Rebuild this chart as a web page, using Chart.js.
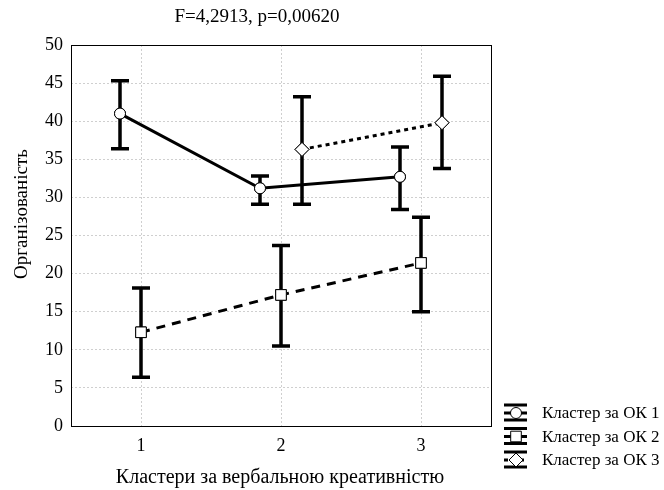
<!DOCTYPE html>
<html>
<head>
<meta charset="utf-8">
<script src="https://cdn.jsdelivr.net/npm/chart.js@4"></script>
<style>
  html, body { margin: 0; padding: 0; background: #fff; }
  #wrap { width: 664px; height: 490px; }
</style>
</head>
<body>
<div id="wrap"><canvas id="chart" width="664" height="490"></canvas></div>
<script>
// Data
const clusters = [1, 2, 3];
const seriesNames = ['Кластер за ОК 1', 'Кластер за ОК 2', 'Кластер за ОК 3'];
const xShift = [-0.15, 0, 0.15];

const ok1Mean = [41.0, 31.2, 32.7];
const ok1Upper = [45.3, 32.8, 36.6];
const ok1Lower = [36.4, 29.1, 28.4];

const ok2Mean = [12.3, 17.2, 21.4];
const ok2Upper = [18.1, 23.7, 27.4];
const ok2Lower = [6.4, 10.5, 15.0];

const ok3Mean = [null, 36.3, 39.8];
const ok3Upper = [null, 43.2, 45.9];
const ok3Lower = [null, 29.1, 33.8];

const yTicks = [0, 5, 10, 15, 20, 25, 30, 35, 40, 45, 50];
const titleText = 'F=4,2913, p=0,00620';
const xTitle = 'Кластери за вербальною креативністю';
const yTitle = 'Організованість';

const SERIF = '"Liberation Serif", "Times New Roman", serif';

function points(means, shift) {
    return clusters.map((c, i) => ({ x: c + shift, y: means[i] }));
}

const bars = [
    { lo: ok1Lower, hi: ok1Upper },
    { lo: ok2Lower, hi: ok2Upper },
    { lo: ok3Lower, hi: ok3Upper }
];

// error bars, then markers redrawn on top of them
const errorBars = {
    id: 'errorBars',
    afterDatasetsDraw(chart) {
        const ctx = chart.ctx;
        const y = chart.scales.y;
        ctx.save();
        ctx.strokeStyle = '#000';
        ctx.lineWidth = 3.5;
        chart.data.datasets.forEach((ds, d) => {
            const meta = chart.getDatasetMeta(d);
            meta.data.forEach((pt, i) => {
                if (bars[d].lo[i] == null) return;
                const x = pt.x;
                const yl = y.getPixelForValue(bars[d].lo[i]);
                const yh = y.getPixelForValue(bars[d].hi[i]);
                ctx.beginPath();
                ctx.moveTo(x, yh); ctx.lineTo(x, yl);
                ctx.moveTo(x - 9, yh); ctx.lineTo(x + 9, yh);
                ctx.moveTo(x - 9, yl); ctx.lineTo(x + 9, yl);
                ctx.stroke();
            });
        });
        ctx.restore();
        chart.data.datasets.forEach((ds, d) => {
            chart.getDatasetMeta(d).data.forEach(pt => {
                if (!pt.skip) pt.draw(ctx, chart.chartArea);
            });
        });
    }
};

// frame, titles and the legend
const decorations = {
    id: 'decorations',
    afterDraw(chart) {
        const ctx = chart.ctx;
        const a = chart.chartArea;
        ctx.save();
        ctx.strokeStyle = '#000';
        ctx.lineWidth = 1;
        ctx.strokeRect(Math.round(a.left) + 0.5, Math.round(a.top) + 0.5,
            Math.round(a.right - a.left), Math.round(a.bottom - a.top));

        ctx.fillStyle = '#000';
        ctx.textAlign = 'center';
        ctx.textBaseline = 'middle';
        ctx.font = '19px ' + SERIF;
        ctx.fillText(titleText, 257, 17);

        ctx.font = '20px ' + SERIF;
        ctx.fillText(xTitle, 280, 478);

        ctx.save();
        ctx.translate(22, 214);
        ctx.rotate(-Math.PI / 2);
        ctx.font = '19px ' + SERIF;
        ctx.fillText(yTitle, 0, 0);
        ctx.restore();

        // legend
        ctx.textAlign = 'left';
        ctx.font = '17px ' + SERIF;
        chart.data.datasets.forEach((ds, d) => {
            const ly = 413 + d * 23.5;
            ctx.save();
            ctx.lineWidth = 3;
            ctx.strokeStyle = '#000';
            ctx.beginPath();
            ctx.moveTo(504, ly - 8); ctx.lineTo(527, ly - 8);
            ctx.moveTo(504, ly + 7); ctx.lineTo(527, ly + 7);
            ctx.stroke();
            ctx.setLineDash(ds.borderDash || []);
            ctx.beginPath();
            ctx.moveTo(504, ly); ctx.lineTo(527, ly);
            ctx.stroke();
            ctx.restore();
            ctx.save();
            ctx.fillStyle = '#fff';
            ctx.strokeStyle = '#000';
            ctx.lineWidth = 1;
            Chart.helpers.drawPoint(ctx, {
                pointStyle: ds.pointStyle, radius: ds.pointRadius, rotation: 0, borderWidth: 1
            }, 516, ly);
            ctx.restore();
            ctx.fillStyle = '#000';
            ctx.fillText(seriesNames[d], 542, ly + 1);
        });
        ctx.restore();
    }
};

const lineStyle = {
    borderColor: '#000',
    borderWidth: 3,
    pointBackgroundColor: '#fff',
    pointBorderColor: '#000',
    pointBorderWidth: 1,
    pointHoverRadius: 0,
    fill: false,
    tension: 0
};

new Chart(document.getElementById('chart'), {
    type: 'line',
    data: {
        datasets: [
            Object.assign({}, lineStyle, {
                label: seriesNames[0], data: points(ok1Mean, xShift[0]),
                pointStyle: 'circle', pointRadius: 5.5
            }),
            Object.assign({}, lineStyle, {
                label: seriesNames[1], data: points(ok2Mean, xShift[1]),
                pointStyle: 'rect', pointRadius: 7.5, borderDash: [9, 7]
            }),
            Object.assign({}, lineStyle, {
                label: seriesNames[2], data: points(ok3Mean, xShift[2]),
                pointStyle: 'rectRot', pointRadius: 7, borderDash: [4, 4]
            })
        ]
    },
    options: {
        responsive: false,
        animation: false,
        events: [],
        layout: { padding: { top: 45, right: 173, left: 0, bottom: 0 } },
        plugins: {
            legend: { display: false },
            title: { display: false },
            tooltip: { enabled: false }
        },
        scales: {
            x: {
                type: 'linear',
                min: 0.5,
                max: 3.5,
                afterBuildTicks: s => { s.ticks = clusters.map(v => ({ value: v })); },
                afterFit: s => { s.height = 64; },
                grid: { color: '#cfcfcf', drawTicks: false, lineWidth: 1 },
                border: { display: false, dash: [2, 2] },
                ticks: { color: '#000', padding: 9, font: { family: SERIF, size: 18 } }
            },
            y: {
                min: 0,
                max: 50,
                afterBuildTicks: s => { s.ticks = yTicks.map(v => ({ value: v })); },
                afterFit: s => { s.width = 71; },
                grid: { color: '#cfcfcf', drawTicks: false, lineWidth: 1 },
                border: { display: false, dash: [2, 2] },
                ticks: { color: '#000', padding: 8, font: { family: SERIF, size: 18 } }
            }
        }
    },
    plugins: [errorBars, decorations]
});
</script>
</body>
</html>
